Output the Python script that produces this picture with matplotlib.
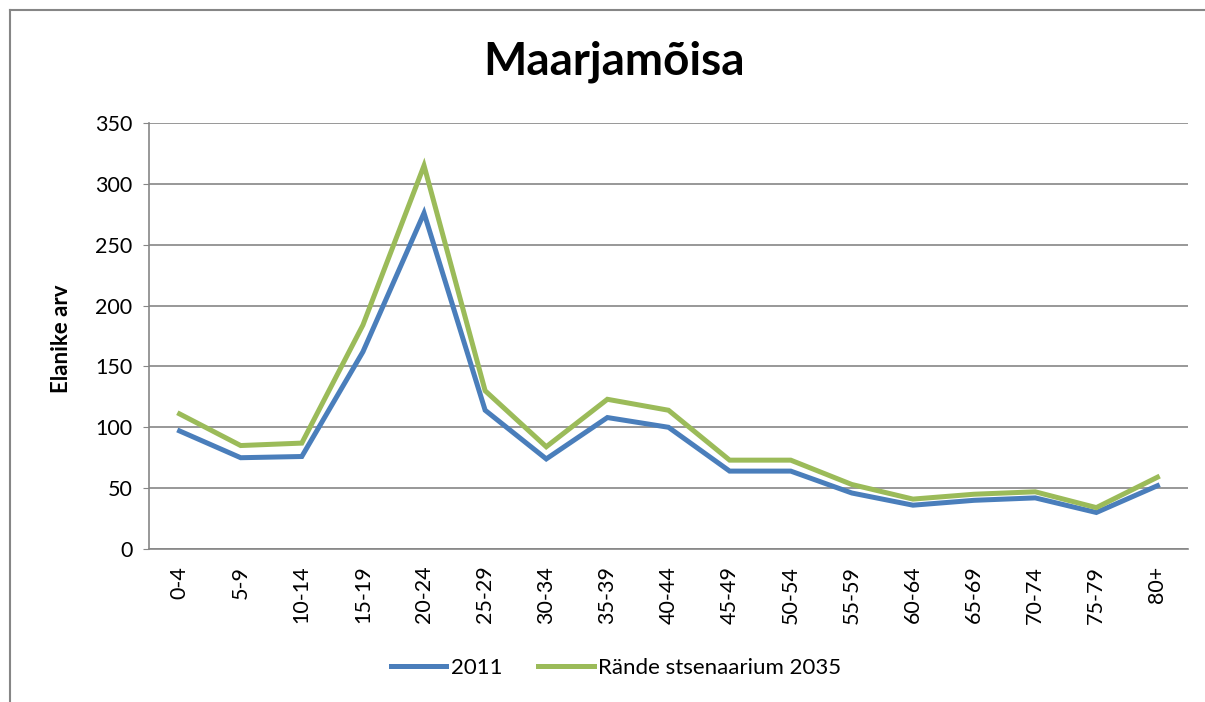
import matplotlib.pyplot as plt
from matplotlib.lines import Line2D

# age groups and population counts
age_groups = ['0-4', '5-9', '10-14', '15-19', '20-24', '25-29', '30-34', '35-39', '40-44',
              '45-49', '50-54', '55-59', '60-64', '65-69', '70-74', '75-79', '80+']
pop_2011 = [97, 75, 76, 162, 276, 114, 74, 108, 100, 64, 64, 46, 36, 40, 42, 30, 52]
pop_2035 = [111, 85, 87, 184, 315, 130, 84, 123, 114, 73, 73, 53, 41, 45, 47, 34, 59]

BLUE = '#4A7EBB'
GREEN = '#9BBB59'
FONT = ['Lato', 'DejaVu Sans']

plt.rcParams['font.family'] = FONT

fig = plt.figure(figsize=(12.05, 7.02), dpi=100)
ax = fig.add_axes([149 / 1205, 1 - 549 / 702, 1039 / 1205, 426 / 702])

x = list(range(len(age_groups)))
ax.plot(x, pop_2011, color=BLUE, lw=3.6, solid_joinstyle='miter', label='2011')
ax.plot(x, pop_2035, color=GREEN, lw=3.6, solid_joinstyle='miter', label='Rände stsenaarium 2035')

ax.set_xlim(-0.5, len(age_groups) - 0.5)
ax.set_ylim(0, 350)
ax.set_yticks(range(0, 351, 50))
ax.set_xticks(x)
ax.set_xticklabels(age_groups, rotation=90, fontsize=15.5)
ax.tick_params(axis='y', labelsize=15.5, length=4, color='#868686', pad=8)
ax.tick_params(axis='x', length=0, pad=12)
ax.grid(axis='y', color='#868686', lw=1.2)
ax.set_axisbelow(True)
for s in ['top', 'right']:
    ax.spines[s].set_visible(False)
for s in ['left', 'bottom']:
    ax.spines[s].set_color('#868686')
    ax.spines[s].set_linewidth(1.2)

fig.text(62 / 1205, 1 - 339 / 702, 'Elanike arv', ha='center', va='center',
         rotation=90, fontsize=16, fontweight='bold')
fig.text(614 / 1205, 1 - 62 / 702, 'Maarjamõisa', ha='center', va='center',
         fontsize=33, fontweight='bold')

handles = [Line2D([0], [0], color=BLUE, lw=3.6), Line2D([0], [0], color=GREEN, lw=3.6)]
fig.legend(handles, ['2011', 'Rände stsenaarium 2035'], loc='center',
           bbox_to_anchor=(616 / 1205, 1 - 668 / 702), ncol=2, frameon=False,
           fontsize=16, handlelength=2.5, columnspacing=1.6, handletextpad=0.2)

# chart border (extends past the canvas on right and bottom)
fig.add_artist(Line2D([10 / 1205, 10 / 1205], [0, 1 - 10 / 702], color='#868686', lw=1.5))
fig.add_artist(Line2D([10 / 1205, 1], [1 - 10 / 702, 1 - 10 / 702], color='#868686', lw=1.5))

fig.savefig('out.png', dpi=100)
